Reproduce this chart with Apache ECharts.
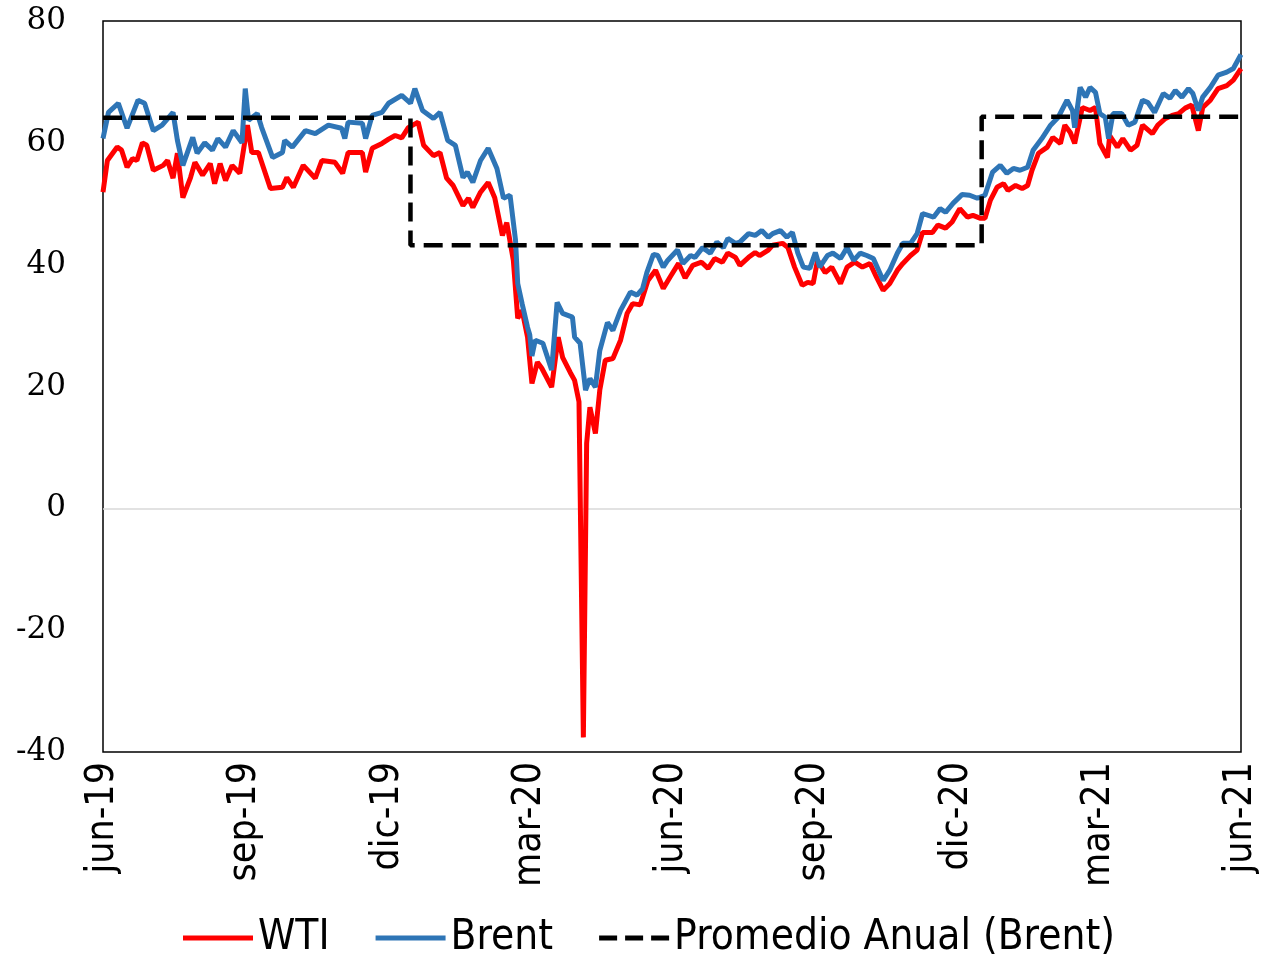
<!DOCTYPE html>
<html>
<head>
<meta charset="utf-8">
<script src="https://cdn.jsdelivr.net/npm/echarts@6/dist/echarts.min.js"></script>
<style>
  html, body { margin: 0; padding: 0; background: #fff; }
  #grafico { width: 1261px; height: 958px; }
</style>
</head>
<body>
<div id="grafico"></div>
<script>
// etiquetas del eje x, una cada 13 semanas
const etiquetas = ["jun-19", "sep-19", "dic-19", "mar-20", "jun-20", "sep-20", "dic-20", "mar-21", "jun-21"];

// Brent (US$/barril), posicion en semanas desde jun-19
const brentSemana = [0, 0.5, 1.4, 2.2, 3.2, 3.8, 4.6, 5.4, 6.4, 6.8, 7.3, 8.2, 8.6, 9.3, 10, 10.5, 11.2, 11.9, 12.7, 13, 13.3, 14.1, 14.5, 15.5, 16.4, 16.6, 17.3, 18.5, 19.4, 20.6, 21.8, 22.1, 22.4, 23.7, 24, 24.6, 25.5, 26.1, 27.3, 28.1, 28.5, 29.2, 30.2, 30.8, 31.5, 32.2, 32.9, 33.3, 33.8, 34.5, 35.2, 36, 36.6, 37.2, 37.7, 37.9, 38.3, 38.8, 39, 39.2, 39.5, 40.2, 41, 41.5, 42, 42.9, 43.1, 43.6, 44.1, 44.5, 45, 45.4, 46.1, 46.6, 47.3, 48.2, 48.8, 49.3, 49.7, 50.3, 50.7, 51.2, 51.6, 52.5, 53, 53.7, 54.1, 54.8, 55.5, 56.1, 56.7, 57.1, 57.8, 58.2, 59, 59.6, 60.2, 60.8, 61.2, 61.9, 62.5, 63, 63.5, 64, 64.6, 65.1, 65.5, 66.2, 66.7, 67.4, 68, 68.6, 69.2, 69.8, 70.4, 71.3, 71.9, 72.6, 73.1, 73.8, 74.4, 74.9, 75.9, 76.5, 77, 77.7, 78.5, 79.2, 79.9, 80.6, 81.3, 82, 82.6, 83.2, 83.8, 84.5, 85, 85.8, 86.6, 87.3, 88.1, 88.6, 88.8, 89.3, 89.8, 90.2, 90.7, 91.1, 91.6, 91.9, 92.3, 93.1, 93.7, 94.3, 95, 95.5, 96.1, 96.9, 97.5, 98, 98.6, 99.2, 99.6, 100.1, 100.5, 101.2, 101.9, 102.7, 103.3, 104];
const brent = [60.7, 65, 66.5, 62.4, 67, 66.5, 62, 62.9, 65, 60.4, 56.3, 60.9, 58.3, 60, 58.8, 60.7, 59.3, 62, 60, 68.9, 63.7, 64.8, 62.5, 57.6, 58.4, 60.4, 59.3, 62, 61.5, 62.9, 62.4, 60.7, 63.4, 63.2, 60.7, 64.5, 65, 66.5, 67.8, 66.5, 68.9, 65.3, 64, 65, 60.4, 59.6, 54.3, 55.2, 53.5, 57.1, 59.1, 55.8, 50.9, 51.4, 44, 36.9, 33.6, 29.7, 28.5, 25, 27.6, 27.1, 22.7, 33.8, 32, 31.4, 28.1, 27.1, 19.4, 21.3, 19.9, 25.9, 30.5, 29.2, 32.5, 35.5, 35, 36, 38.7, 41.7, 41.5, 39.6, 40.7, 42.4, 40.2, 41.5, 41.2, 42.8, 41.9, 43.7, 42.8, 44.3, 43.5, 43.7, 45.1, 44.8, 45.6, 44.5, 45.1, 45.6, 44.5, 45.3, 41.9, 39.6, 39.4, 42, 39.6, 41.5, 41.9, 41, 42.8, 40.7, 41.9, 41.5, 41, 37.4, 39.1, 41.9, 43.5, 43.5, 45.1, 48.4, 47.8, 49.2, 48.6, 50.1, 51.5, 51.4, 50.9, 51.4, 55.2, 56.3, 55, 55.8, 55.5, 56, 58.8, 60.7, 62.9, 64.2, 67, 65.3, 62.5, 69.1, 67.5, 69.1, 68.3, 64.8, 64.2, 60.7, 64.8, 64.8, 62.9, 63.4, 67, 66.6, 65, 68.1, 67.3, 68.6, 67.5, 68.9, 68.1, 65.3, 67.5, 69.1, 71.1, 71.6, 72.2, 74.5];

// WTI (US$/barril)
const wtiSemana = [0, 0.4, 1.3, 1.7, 2.2, 2.7, 3.1, 3.6, 4, 4.6, 5.5, 5.9, 6.4, 6.8, 7.3, 8, 8.4, 9.1, 9.8, 10.2, 10.7, 11.2, 11.8, 12.5, 13.2, 13.6, 14.2, 15.3, 16.4, 16.8, 17.4, 18.3, 19.4, 20, 21.2, 21.9, 22.4, 23.7, 24, 24.6, 25.5, 26.1, 26.7, 27.3, 27.9, 28.8, 29.3, 30.2, 30.8, 31.4, 32, 32.9, 33.4, 33.8, 34.5, 35.2, 35.8, 36.5, 36.9, 37.5, 37.9, 38.3, 38.8, 39.2, 39.7, 40.1, 41, 41.6, 42, 42.7, 43.1, 43.5, 43.9, 44.2, 44.5, 45, 45.4, 45.9, 46.6, 47.3, 47.9, 48.4, 49.1, 49.8, 50.5, 51.2, 51.8, 52.6, 53.2, 53.9, 54.7, 55.3, 55.9, 56.6, 57.1, 57.8, 58.2, 59, 59.6, 60, 60.8, 61.2, 62.1, 62.6, 63.2, 63.9, 64.4, 64.9, 65.3, 66, 66.6, 67.4, 68, 68.7, 69.4, 70.1, 70.7, 71.3, 71.9, 72.6, 73.1, 73.8, 74.4, 74.9, 75.8, 76.3, 77, 77.6, 78.3, 79, 79.5, 80.2, 80.6, 81.1, 81.7, 82.3, 82.7, 83.4, 84, 84.5, 84.9, 85.5, 86.3, 86.8, 87.5, 87.9, 88.4, 88.8, 89.5, 90.2, 90.7, 91.1, 91.8, 92, 92.7, 93.2, 93.9, 94.5, 95, 95.9, 96.4, 97.1, 97.7, 98.3, 98.9, 99.5, 100.1, 100.5, 101.2, 101.9, 102.7, 103.3, 104];
const wti = [51.9, 57.1, 59.3, 58.8, 56, 57.4, 57.1, 60, 59.6, 55.5, 56.3, 57.1, 54.2, 58.3, 51, 54.3, 56.8, 54.7, 56.6, 53.3, 56.6, 53.8, 56.3, 55, 62.9, 58.4, 58.4, 52.5, 52.7, 54.3, 52.7, 56.3, 54.2, 57.1, 56.8, 55, 58.4, 58.4, 55.2, 59.1, 59.9, 60.6, 61.2, 60.8, 62.5, 63.4, 59.6, 57.9, 58.4, 54.2, 53, 49.7, 50.9, 49.4, 51.9, 53.5, 51, 44.8, 46.9, 40.7, 31.2, 32.5, 28.1, 20.5, 24, 23, 19.9, 28.1, 24.8, 22.3, 21, 17.5, -37.6, 10.7, 16.6, 12.3, 19.4, 24.3, 24.6, 27.6, 32, 33.6, 33.4, 37.4, 39.1, 36.1, 37.9, 40.2, 37.8, 39.9, 40.4, 39.4, 41, 40.4, 41.9, 41.2, 39.9, 41.2, 42, 41.5, 42.4, 43.2, 43.5, 42.8, 39.6, 36.6, 37.1, 36.9, 40.7, 38.7, 39.6, 36.9, 39.6, 40.4, 39.6, 40.2, 37.9, 35.8, 36.9, 39.1, 40.2, 41.5, 42.4, 45.3, 45.3, 46.5, 46, 47, 49.2, 47.8, 48.1, 47.6, 47.6, 50.6, 52.7, 53.3, 52.2, 53, 52.5, 53, 55.5, 58.3, 59.3, 60.9, 59.9, 62.9, 61.7, 59.9, 65.8, 65.3, 65.8, 59.9, 57.6, 61.2, 59.3, 60.7, 58.8, 59.6, 62.9, 61.5, 62.9, 64, 64.5, 64.8, 65.7, 66.2, 62, 65.8, 67, 68.9, 69.4, 70.3, 72.2];

// promedio anual del Brent: 2019, 2020, 2021
const promedioSemana = [0, 28.1, 80.3, 104];
const promedio = [64.1, 43.2, 64.3, 64.3];

const pares = (xs, ys) => xs.map((x, i) => [x, ys[i]]);

const chart = echarts.init(document.getElementById("grafico"));
const fuenteSans = "'Liberation Sans Narrow', 'DejaVu Sans Condensed', 'Noto Sans', sans-serif";

const option = {
  backgroundColor: "#fff",
  animation: false,
  grid: {
    left: 103,
    right: 20,
    top: 21,
    bottom: 206,
    show: true,
    borderColor: "#000",
    borderWidth: 1.5,
  },
  legend: {
    bottom: -6,
    left: 178,
    itemWidth: 70,
    itemHeight: 5,
    itemGap: 46,
    textStyle: { fontFamily: fuenteSans, fontSize: 42, color: "#000" },
    data: [
      { name: "WTI", icon: "rect" },
      { name: "Brent", icon: "rect" },
      { name: "Promedio Anual (Brent)", icon: "path://M0,0h18v5h-18z M26,0h18v5h-18z M52,0h18v5h-18z" },
    ],
  },
  xAxis: {
    type: "value",
    min: 0,
    max: 104,
    interval: 13,
    axisLine: { show: false },
    axisTick: { show: false },
    splitLine: { show: false },
    axisLabel: {
      rotate: 90,
      margin: 10,
      fontFamily: fuenteSans,
      fontSize: 39,
      color: "#000",
      formatter: (v) => etiquetas[Math.round(v / 13)] || "",
    },
  },
  yAxis: {
    type: "value",
    min: -40,
    max: 80,
    interval: 20,
    axisLine: { show: false },
    axisTick: { show: false },
    axisLabel: {
      margin: 37,
      fontFamily: "'DejaVu Serif', 'Liberation Serif', serif",
      fontSize: 31,
      color: "#000",
    },
    splitLine: {
      show: true,
      lineStyle: {
        width: 1.5,
        color: ["transparent", "transparent", "#d9d9d9", "transparent", "transparent", "transparent", "transparent"],
      },
    },
  },
  series: [
    {
      name: "WTI",
      type: "line",
      data: pares(wtiSemana, wti),
      showSymbol: false,
      symbol: "none",
      lineStyle: { color: "#ff0000", width: 5 },
      itemStyle: { color: "#ff0000" },
      z: 2,
    },
    {
      name: "Brent",
      type: "line",
      data: pares(brentSemana, brent),
      showSymbol: false,
      symbol: "none",
      lineStyle: { color: "#2e75b6", width: 5 },
      itemStyle: { color: "#2e75b6" },
      z: 3,
    },
    {
      name: "Promedio Anual (Brent)",
      type: "line",
      step: "end",
      data: pares(promedioSemana, promedio),
      showSymbol: false,
      symbol: "none",
      lineStyle: { color: "#000", width: 4.5, type: [19, 9] },
      itemStyle: { color: "#000" },
      z: 4,
    },
  ],
};

chart.setOption(option);
</script>
</body>
</html>
